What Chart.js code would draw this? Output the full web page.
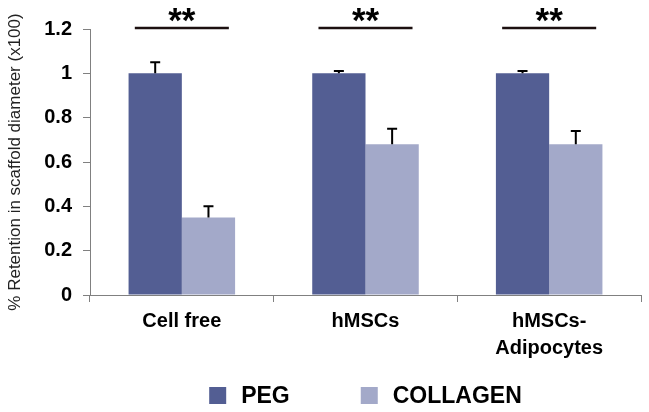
<!DOCTYPE html>
<html>
<head>
<meta charset="utf-8">
<script src="https://cdn.jsdelivr.net/npm/chart.js@4.4.1/dist/chart.umd.min.js"></script>
<style>
  html, body { margin: 0; padding: 0; background: #fff; }
  #wrap { width: 649px; height: 412px; }
</style>
</head>
<body>
<div id="wrap"><canvas id="c" width="649" height="412"></canvas></div>
<script>
// ---- data ----
const categories = ['Cell free', 'hMSCs', ['hMSCs-', 'Adipocytes']];
const seriesNames = ['PEG', 'COLLAGEN'];
const pegValues = [1.0, 1.0, 1.0];
const collagenValues = [0.35, 0.68, 0.68];
const pegErrors = [0.05, 0.01, 0.01];
const collagenErrors = [0.05, 0.07, 0.06];
const significance = ['**', '**', '**'];
const yTickLabels = ['0', '0.2', '0.4', '0.6', '0.8', '1', '1.2'];
const yTitle = '% Retention in scaffold diameter (x100)';

const FONT = "'Liberation Sans', Arial, sans-serif";
const PEG_COLOR = '#535e93';
const COL_COLOR = '#a3a9c9';
const AXIS_COLOR = '#808080';

const errorsBySeries = [pegErrors, collagenErrors];

const errorBarPlugin = {
  id: 'errorBars',
  afterDatasetsDraw(chart) {
    const ctx = chart.ctx;
    const y = chart.scales.y;
    ctx.save();
    ctx.strokeStyle = '#000';
    ctx.lineWidth = 2;
    chart.data.datasets.forEach((ds, di) => {
      const meta = chart.getDatasetMeta(di);
      meta.data.forEach((bar, i) => {
        const v = ds.data[i];
        const e = errorsBySeries[di][i];
        const yTop = y.getPixelForValue(v + e);
        const yBase = y.getPixelForValue(v);
        ctx.beginPath();
        ctx.moveTo(bar.x, yBase);
        ctx.lineTo(bar.x, yTop);
        ctx.moveTo(bar.x - 5, yTop);
        ctx.lineTo(bar.x + 5, yTop);
        ctx.stroke();
      });
    });
    ctx.restore();
  }
};

const significancePlugin = {
  id: 'significance',
  afterDraw(chart) {
    const ctx = chart.ctx;
    const x = chart.scales.x;
    const y = chart.scales.y;
    const catW = (x.right - x.left) / categories.length;
    const lineY = y.getPixelForValue(1.2) - 1;
    ctx.save();
    significance.forEach((s, i) => {
      const cx = x.getPixelForValue(i);
      ctx.strokeStyle = '#1c1010';
      ctx.lineWidth = 2.5;
      ctx.beginPath();
      ctx.moveTo(cx - 0.256 * catW, lineY);
      ctx.lineTo(cx + 0.256 * catW, lineY);
      ctx.stroke();
      ctx.fillStyle = '#000';
      ctx.font = 'bold 35px ' + FONT;
      ctx.textAlign = 'center';
      ctx.textBaseline = 'middle';
      ctx.fillText(s, cx, lineY - 6);
    });
    ctx.restore();
  }
};

const legendPlugin = {
  id: 'customLegend',
  afterDraw(chart) {
    const ctx = chart.ctx;
    const area = chart.chartArea;
    const colors = [PEG_COLOR, COL_COLOR];
    ctx.save();
    ctx.font = 'bold 23px ' + FONT;
    ctx.textBaseline = 'middle';
    ctx.textAlign = 'left';
    const box = 17, gapText = 15, gapItem = 71;
    const widths = seriesNames.map(n => box + gapText + ctx.measureText(n).width);
    const total = widths.reduce((a, b) => a + b, 0) + gapItem * (seriesNames.length - 1);
    let xPos = (area.left + area.right) / 2 - total / 2;
    const yMid = 395.5;
    seriesNames.forEach((n, i) => {
      ctx.fillStyle = colors[i];
      ctx.fillRect(xPos, yMid - box / 2, box, box);
      ctx.fillStyle = '#000';
      ctx.fillText(n, xPos + box + gapText, yMid + 1);
      xPos += widths[i] + gapItem;
    });
    ctx.restore();
  }
};

new Chart(document.getElementById('c'), {
  type: 'bar',
  data: {
    labels: categories,
    datasets: [
      { label: seriesNames[0], data: pegValues, backgroundColor: PEG_COLOR, borderWidth: 0,
        categoryPercentage: 0.58, barPercentage: 1.0 },
      { label: seriesNames[1], data: collagenValues, backgroundColor: COL_COLOR, borderWidth: 0,
        categoryPercentage: 0.58, barPercentage: 1.0 }
    ]
  },
  options: {
    responsive: false,
    animation: false,
    devicePixelRatio: 1,
    layout: { padding: { top: 29, right: 8, bottom: 0, left: 0 } },
    plugins: {
      legend: { display: false },
      tooltip: { enabled: false }
    },
    scales: {
      x: {
        afterFit(scale) { scale.height = 117; },
        grid: { offset: true, drawOnChartArea: false, drawTicks: true, tickLength: 7, color: AXIS_COLOR },
        border: { color: AXIS_COLOR, width: 1 },
        ticks: {
          color: '#000', padding: 6, maxRotation: 0, autoSkip: false,
          font: { family: FONT, size: 20, weight: 'bold', lineHeight: 1.35 }
        }
      },
      y: {
        min: 0, max: 1.2,
        afterFit(scale) { scale.width = 90; },
        grid: { drawOnChartArea: false, drawTicks: true, tickLength: 7, color: AXIS_COLOR },
        border: { color: AXIS_COLOR, width: 1 },
        ticks: {
          stepSize: 0.2, color: '#000', padding: 11,
          font: { family: FONT, size: 20, weight: 'bold' },
          callback: (v, i) => yTickLabels[i]
        },
        title: {
          display: true, text: yTitle, color: '#222',
          font: { family: FONT, size: 17 },
          padding: { top: 5, bottom: 0 }
        }
      }
    }
  },
  plugins: [errorBarPlugin, significancePlugin, legendPlugin]
});
</script>
</body>
</html>
